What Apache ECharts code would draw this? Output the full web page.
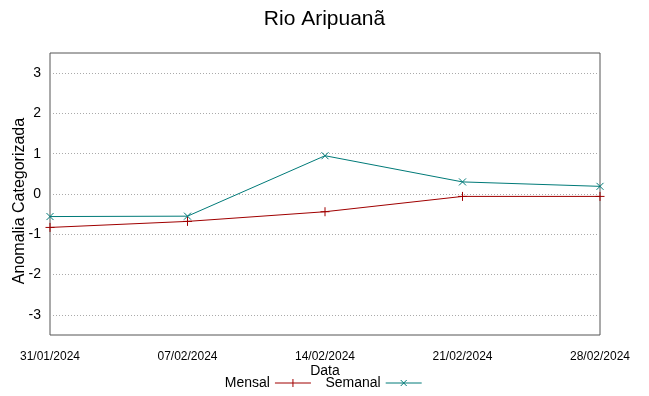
<!DOCTYPE html>
<html>
<head>
<meta charset="utf-8">
<script src="https://cdn.jsdelivr.net/npm/echarts@6/dist/echarts.min.js"></script>
<style>html,body{margin:0;padding:0;background:#fff}#c{width:649px;height:396px}</style>
</head>
<body>
<div id="c"></div>
<script>
var categories = ['31/01/2024', '07/02/2024', '14/02/2024', '21/02/2024', '28/02/2024'];
var mensal = [-0.83, -0.68, -0.44, -0.06, -0.06];
var semanal = [-0.56, -0.55, 0.95, 0.30, 0.19];
var yTicks = [-3, -2, -1, 0, 1, 2, 3];

var plusPath = 'path://M0,5L10,5M5,0L5,10';
var crossPath = 'path://M0,0L10,10M10,0L0,10';
var plusLegend = 'path://M0,5L36,5M18,1L18,9';
var crossLegend = 'path://M0,5L36,5M15,2L21,8M21,2L15,8';
var font = 'Liberation Sans, Arial, sans-serif';

var chart = echarts.init(document.getElementById('c'), null, {renderer: 'canvas'});
chart.setOption({
  animation: false,
  backgroundColor: '#ffffff',
  title: {
    text: 'Rio Aripuanã', left: 'center', top: 4,
    textStyle: {fontFamily: font, fontSize: 21, fontWeight: 'normal', color: '#000'}
  },
  legend: {
    bottom: 1, left: 'center', align: 'right', itemWidth: 36, itemHeight: 10, itemGap: 12,
    textStyle: {fontFamily: font, fontSize: 14, color: '#000'},
    data: [
      {name: 'Mensal', icon: plusLegend, itemStyle: {color: 'none', borderColor: '#a00000', borderWidth: 1}},
      {name: 'Semanal', icon: crossLegend, itemStyle: {color: 'none', borderColor: '#007a78', borderWidth: 1}}
    ]
  },
  grid: {left: 50, right: 49, top: 53, bottom: 61, show: true, borderColor: '#555', borderWidth: 1,
         containLabel: false, outerBoundsMode: 'none'},
  xAxis: {
    type: 'category', data: categories, boundaryGap: false,
    name: 'Data', nameLocation: 'middle', nameGap: 29, nameMoveOverlap: false,
    nameTextStyle: {fontFamily: font, fontSize: 14, color: '#000'},
    axisLine: {show: false}, axisTick: {show: false}, splitLine: {show: false},
    axisLabel: {fontFamily: font, fontSize: 12, color: '#000', margin: 16, interval: 0}
  },
  yAxis: {
    type: 'value', min: -3.5, max: 3.5, interval: 0.5,
    name: 'Anomalia Categorizada', nameLocation: 'middle', nameGap: 22, nameMoveOverlap: false,
    nameTextStyle: {fontFamily: font, fontSize: 16, color: '#000', padding: [0, 14, 0, 0]},
    axisLine: {show: false}, axisTick: {show: false},
    axisLabel: {
      fontFamily: font, fontSize: 14, color: '#000', margin: 9,
      formatter: function (v) { return yTicks.indexOf(v) >= 0 ? String(v) : ''; }
    },
    splitLine: {show: true, lineStyle: {type: [1, 2], width: 1, color: ['rgba(0,0,0,0)', '#aaaaaa']}}
  },
  series: [
    {
      name: 'Mensal', type: 'line', data: mensal,
      symbol: plusPath, symbolSize: 9, showAllSymbol: true,
      lineStyle: {color: '#a00000', width: 1},
      itemStyle: {color: 'none', borderColor: '#a00000', borderWidth: 1}
    },
    {
      name: 'Semanal', type: 'line', data: semanal,
      symbol: crossPath, symbolSize: 7, showAllSymbol: true,
      lineStyle: {color: '#007a78', width: 1},
      itemStyle: {color: 'none', borderColor: '#007a78', borderWidth: 1}
    }
  ]
});
</script>
</body>
</html>
